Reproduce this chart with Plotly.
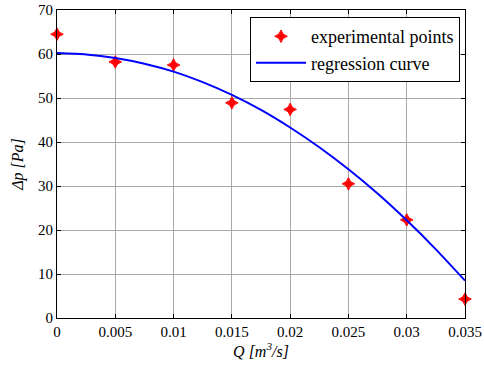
import plotly.graph_objects as go

q_points = [0, 0.005, 0.01, 0.015, 0.02, 0.025, 0.03, 0.035]
dp_points = [64.5, 58.2, 57.5, 48.9, 47.4, 30.5, 22.3, 4.3]

q_curve = [0, 0.0025, 0.005, 0.0075, 0.01, 0.0125, 0.015, 0.0175, 0.02,
           0.0225, 0.025, 0.0275, 0.03, 0.0325, 0.035]
dp_curve = [60.2, 59.9, 59.1, 57.8, 56.0, 53.6, 50.7, 47.3, 43.3,
            38.8, 33.8, 28.3, 22.2, 15.6, 8.5]

x_ticks = [0, 0.005, 0.01, 0.015, 0.02, 0.025, 0.03, 0.035]
x_labels = ["0", "0.005", "0.01", "0.015", "0.02", "0.025", "0.03", "0.035"]
y_ticks = [0, 10, 20, 30, 40, 50, 60, 70]

font = "Liberation Serif, serif"

fig = go.Figure()
fig.add_trace(go.Scatter(
    x=q_points, y=dp_points, mode="markers", name="experimental points",
    marker=dict(symbol="star-diamond", size=9, color="red",
                line=dict(color="red", width=1)),
    cliponaxis=False,
))
fig.add_trace(go.Scatter(
    x=q_curve, y=dp_curve, mode="lines", name="regression curve",
    line=dict(color="blue", width=2, shape="spline", smoothing=0.6),
))

axis_common = dict(
    showline=True, linecolor="black", linewidth=1, mirror="ticks",
    ticks="inside", ticklen=4, tickcolor="black",
    showgrid=True, gridcolor="#a8a8a8", gridwidth=1,
    zeroline=False, automargin=False,
    tickfont=dict(family=font, size=15, color="black"),
)

fig.update_layout(
    width=484, height=373,
    margin=dict(l=57, r=19, t=10, b=55, autoexpand=False),
    paper_bgcolor="white", plot_bgcolor="white",
    font=dict(family=font, color="black", size=15),
    showlegend=True,
    legend=dict(
        x=0.9878, y=0.977, xanchor="right", yanchor="top",
        bordercolor="black", borderwidth=1, bgcolor="white",
        font=dict(family=font, size=18, color="black"),
        itemwidth=50, tracegroupgap=0,
    ),
    xaxis=dict(
        range=[0, 0.035], tickvals=x_ticks, ticktext=x_labels,
        title=dict(text="<i>Q [m<sup>3</sup>/s]</i>", font=dict(family=font, size=16), standoff=6),
        **axis_common,
    ),
    yaxis=dict(
        range=[0, 70], tickvals=y_ticks,
        title=dict(text="<i>Δp [Pa]</i>", font=dict(family=font, size=16), standoff=10),
        **axis_common,
    ),
)

fig.write_html("out.html")
